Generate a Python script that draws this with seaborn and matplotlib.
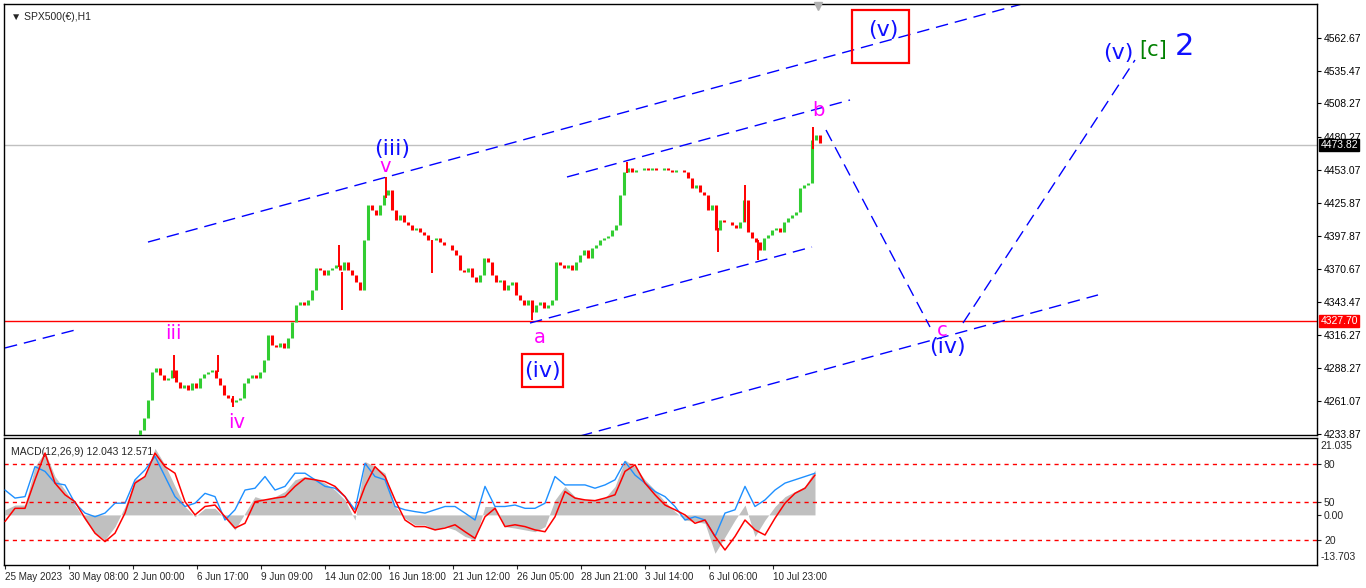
import numpy as np
import pandas as pd
import matplotlib
matplotlib.use("Agg")
import matplotlib.pyplot as plt
import seaborn as sns
from matplotlib.patches import Rectangle

# 1. Data
# closes of the H1 bars, one value every 4 bars
bar_start = 128
bar_step = 4
closes = [4224.7, 4228.8, 4237.1, 4247.1, 4262.0, 4285.2, 4288.6, 4282.8, 4278.6, 4280.3,
          4286.9, 4276.9, 4272.0, 4274.5, 4270.3, 4276.1, 4272.0, 4280.3, 4283.6, 4285.2,
          4286.9, 4280.3, 4274.5, 4266.2, 4263.7, 4260.3, 4262.0, 4263.7, 4276.1, 4280.3,
          4282.8, 4280.3, 4285.2, 4295.2, 4315.9, 4307.7, 4306.0, 4309.3, 4305.2, 4313.5,
          4326.7, 4340.9, 4343.3, 4340.9, 4345.0, 4353.3, 4371.6, 4369.9, 4365.8, 4369.9,
          4371.6, 4374.1, 4369.9, 4376.5, 4369.9, 4365.8, 4359.9, 4353.3, 4394.8, 4423.9,
          4419.7, 4415.6, 4423.9, 4432.2, 4436.3, 4419.7, 4411.4, 4415.6, 4409.7, 4407.3,
          4403.1, 4404.8, 4401.4, 4398.9, 4394.8, 4394.8, 4396.5, 4393.1, 4390.7, 4390.7,
          4386.5, 4382.4, 4369.9, 4368.2, 4371.6, 4364.1, 4359.9, 4365.8, 4379.9, 4376.5,
          4365.8, 4359.9, 4361.6, 4353.3, 4357.5, 4359.9, 4349.2, 4345.0, 4340.9, 4345.0,
          4335.0, 4340.9, 4343.3, 4338.4, 4340.9, 4345.0, 4376.5, 4374.1, 4371.6, 4374.1,
          4369.9, 4376.5, 4382.4, 4386.5, 4379.9, 4388.2, 4390.7, 4394.8, 4396.5, 4398.1,
          4403.1, 4407.3, 4432.2, 4451.2, 4454.6, 4451.2, 4452.9, 4452.9, 4454.6, 4452.9,
          4454.6, 4452.9, 4452.9, 4454.6, 4452.9, 4451.2, 4452.9, 4452.9, 4451.2, 4446.3,
          4438.0, 4440.5, 4434.6, 4432.2, 4419.7, 4423.9, 4403.1, 4411.4, 4409.7, 4409.7,
          4407.3, 4404.8, 4409.7, 4428.0, 4401.4, 4396.5, 4393.1, 4386.5, 4396.5, 4398.9,
          4403.1, 4404.8, 4401.4, 4409.7, 4413.1, 4415.6, 4418.0, 4438.0, 4440.5, 4442.1,
          4477.8, 4481.9, 4475.3]

# the long wicks that stand out: bar, low, high
wick_bars = [170, 214, 229, 335, 338, 382, 428, 528, 623, 714, 741, 754, 809]
wick_lows = [4280.0, 4285.0, 4256.2, 4372.0, 4336.7, 4430.0, 4367.4, 4328.4, 4450.0,
             4384.8, 4410.0, 4378.2, 4470.0]
wick_highs = [4299.4, 4299.4, 4265.0, 4390.6, 4368.0, 4447.1, 4395.0, 4342.0, 4459.5,
              4405.0, 4440.5, 4395.0, 4488.6]

# MACD panel, one value every 10 bars
macd_start = 1
macd_step = 10
macd_hist = [1.4, 2.7, 2.7, 13.2, 17.3, 10.5, 6.8, 2.7, -1.4, -5.0,
             -6.8, -3.2, 2.3, 9.6, 10.5, 18.2, 13.7, 7.8, 2.3, -0.5,
             1.8, 1.8, -0.9, -4.1, 0.5, 5.0, 4.1, 5.0, 6.4, 9.6,
             10.5, 10.0, 8.7, 6.8, 4.1, -1.4, 14.6, 13.2, 11.4, 2.3,
             -0.9, -2.7, -2.7, -4.1, -3.2, -4.1, -5.9, -6.8, 2.3, 2.3,
             -3.2, -3.6, -4.1, -4.6, -3.2, 4.1, 7.8, 5.0, 4.1, 4.1,
             4.6, 7.8, 15.0, 13.2, 9.6, 6.8, 3.6, 0.9, -1.4, -1.8,
             -2.3, -10.5, -6.0, -1.4, 2.7, -5.9, -1.4, 2.3, 5.0, 6.4,
             7.8, 12.3]
macd_signal = [-1.8, 1.8, 1.8, 9.6, 16.9, 8.7, 5.5, 3.6, -0.9, -5.0,
               -7.3, -5.0, 0.5, 8.7, 10.5, 16.9, 13.2, 11.4, 3.6, 0.0,
               2.3, 2.7, -0.5, -3.6, -2.3, 3.6, 4.1, 4.6, 5.0, 7.8,
               10.0, 9.6, 9.1, 7.8, 5.0, 0.5, 7.8, 13.2, 10.5, 4.1,
               -1.4, -3.2, -3.2, -4.1, -3.6, -2.7, -4.6, -6.4, -0.5, 1.8,
               -3.2, -2.7, -3.2, -4.1, -4.6, -0.5, 6.4, 4.6, 4.1, 3.9,
               4.6, 5.5, 11.9, 13.7, 8.7, 5.5, 2.7, 1.4, 0.0, -2.3,
               -1.4, -5.9, -9.6, -5.9, -1.4, -4.1, -5.5, -0.9, 3.2, 5.9,
               7.3, 10.9]
macd_main = [6.8, 4.6, 5.0, 13.2, 11.9, 8.7, 8.2, 3.2, 0.5, -0.5,
             0.5, 3.2, 3.2, 9.6, 12.3, 16.0, 10.5, 5.0, 2.3, 3.2,
             5.9, 5.0, -1.4, 1.4, 6.8, 7.3, 10.5, 6.8, 7.8, 11.4,
             11.4, 9.6, 7.8, 7.3, 5.0, 1.4, 14.1, 10.5, 9.6, 2.3,
             1.4, 0.9, 0.5, 1.4, 2.3, 2.3, 0.5, -1.4, 7.8, 2.3,
             2.3, 2.7, 1.8, 1.8, 3.2, 10.5, 8.2, 8.2, 8.2, 7.3,
             8.2, 9.6, 14.6, 10.9, 8.7, 6.4, 5.0, 2.3, -1.4, -0.5,
             -1.4, -5.9, 0.5, 1.4, 7.8, 2.3, 4.1, 6.8, 8.7, 9.6,
             10.5, 11.4]
macd_levels = [13.92, 3.53, -6.86]
macd_level_labels = ["80", "50", "20"]

price_ticks = [4562.67, 4535.47, 4508.27, 4480.27, 4453.07, 4425.87, 4397.87,
               4370.67, 4343.47, 4316.27, 4288.27, 4261.07, 4233.87]
time_labels = ["25 May 2023", "30 May 08:00", "2 Jun 00:00", "6 Jun 17:00",
               "9 Jun 09:00", "14 Jun 02:00", "16 Jun 18:00", "21 Jun 12:00",
               "26 Jun 05:00", "28 Jun 21:00", "3 Jul 14:00", "6 Jul 06:00",
               "10 Jul 23:00"]
time_ticks = [1, 65, 129, 193, 257, 321, 385, 449, 513, 577, 641, 705, 769]
last_price = 4473.82
support_price = 4327.70

# trend lines drawn on the chart: (bar, price) -> (bar, price)
channel_lines = [
    ((144, 4393.1), (1018, 4590.7)),
    ((576, 4232.1), (1094, 4349.2)),
    ((1, 4305.2), (75, 4320.9)),
    ((563, 4447.1), (846, 4511.0)),
    ((526, 4325.9), (808, 4389.0)),
    ((822, 4486.1), (926, 4322.6)),
    ((959, 4325.9), (1131, 4544.2)),
]

# wave labels: text, bar, price, colour, size
blue = "#1010ff"
magenta = "#ff00ff"
waves = [
    ("(iii)", 388, 4470.5, blue, 16),
    ("v", 381, 4455.5, magenta, 14),
    ("iii", 169, 4317.6, magenta, 14),
    ("iv", 233, 4243.7, magenta, 14),
    ("a", 536, 4313.5, magenta, 14),
    ("(iv)", 538, 4286.1, blue, 16),
    ("b", 814, 4502.7, magenta, 14),
    ("(v)", 879, 4569.1, blue, 16),
    ("c", 938, 4320.1, magenta, 14),
    ("(iv)", 943, 4306.0, blue, 16),
    ("(v)", 1114, 4550.0, blue, 16),
    ("[c]", 1149, 4552.5, "#008000", 15),
    ("2", 1180, 4555.8, blue, 22),
]
boxes = [((848, 4541.7), (905, 4585.7)), ((518, 4272.8), (559, 4300.2))]

# 2. Figure layout like the terminal window
sns.set_style("white")
plt.rcParams['font.family'] = ['DejaVu Sans']
axis_font = "Liberation Sans"
axis_size = 7.5

W, H = 1366, 588
fig = plt.figure(figsize=(W / 100, H / 100), dpi=100)
ax = fig.add_axes([4 / W, (H - 435) / H, 1313 / W, 431 / H])
mx = fig.add_axes([4 / W, (H - 565) / H, 1313 / W, 127 / H], sharex=ax)

for a in (ax, mx):
    for s in a.spines.values():
        s.set_color("black")
        s.set_linewidth(1)
ax.set_xlim(0, 1313)
ax.set_ylim(4594 - 0.83 * 435, 4594 - 0.83 * 4)

# 3. Price bars (open = previous close)
bars = pd.DataFrame({"close": closes})
bars["bar"] = bar_start + bar_step * np.arange(len(bars))
bars["open"] = bars["close"].shift(1).fillna(bars["close"])
bars["colour"] = np.where(bars["close"] > bars["open"], "#32cd32",
                          np.where(bars["close"] < bars["open"], "#ff0000", "black"))
ax.vlines(bars["bar"], bars[["open", "close"]].min(axis=1),
          bars[["open", "close"]].max(axis=1), colors=bars["colour"], linewidth=2.2, zorder=3)
ax.vlines(wick_bars, wick_lows, wick_highs, colors="#ff0000", linewidth=1.4, zorder=3)

ax.axhline(last_price, color="#c0c0c0", linewidth=1, zorder=1)
ax.axhline(support_price, color="red", linewidth=1, zorder=2)

for (x0, y0), (x1, y1) in channel_lines:
    ax.plot([x0, x1], [y0, y1], color="blue", linewidth=1, dashes=(9, 5), zorder=2)

for t, x, y, c, fs in waves:
    ax.text(x, y, t, color=c, fontsize=fs, ha="center", va="center", zorder=5)
for (x0, y0), (x1, y1) in boxes:
    ax.add_patch(Rectangle((x0, y0), x1 - x0, y1 - y0, fill=False,
                           edgecolor="red", linewidth=1.6, zorder=5))

ax.text(0.005, 0.982, "\u25bc SPX500(\u20ac),H1", transform=ax.transAxes,
        fontsize=axis_size, va="top", ha="left", family=[axis_font, "DejaVu Sans"])
ax.plot([814], [ax.get_ylim()[1] - 2], marker="v", color="#b0b0b0",
        markersize=6, clip_on=False, zorder=6)

ax.yaxis.tick_right()
ax.set_yticks(price_ticks)
ax.set_yticklabels([f"{p:.2f}" for p in price_ticks], fontsize=axis_size, family=axis_font)
ax.tick_params(axis="y", direction="out", length=3, pad=2, colors="black")
ax.tick_params(axis="x", bottom=False, labelbottom=False)

for price, bg in ((last_price, "black"), (support_price, "red")):
    ax.text(1.0025, price, f"{price:.2f}", transform=ax.get_yaxis_transform(),
            fontsize=axis_size, color="white", va="center", ha="left", zorder=10,
            family=axis_font,
            bbox=dict(boxstyle="square,pad=0.12", facecolor=bg, edgecolor=bg),
            clip_on=False)

# 4. MACD panel
macd = pd.DataFrame({"bar": macd_start + macd_step * np.arange(len(macd_main)),
                     "hist": macd_hist, "signal": macd_signal, "main": macd_main})
mx.fill_between(macd["bar"], 0, macd["hist"], color="#c0c0c0", linewidth=0, zorder=1)
for lv in macd_levels:
    mx.axhline(lv, color="red", linewidth=1, dashes=(3, 3), zorder=2)
sns.lineplot(data=macd, x="bar", y="main", ax=mx, color="#1e90ff", linewidth=1, zorder=3)
sns.lineplot(data=macd, x="bar", y="signal", ax=mx, color="red", linewidth=1.1, zorder=4)
mx.set_ylim(-13.703, 21.035)
mx.set_xlabel("")
mx.set_ylabel("")

mx.yaxis.tick_right()
mx.set_yticks(macd_levels + [0])
mx.set_yticklabels(macd_level_labels + ["0.00"], fontsize=axis_size, family=axis_font)
mx.tick_params(axis="y", direction="out", length=3, pad=2)
mx.text(1.0025, 0.94, "21.035", transform=mx.transAxes, fontsize=axis_size, va="center",
        ha="left", family=axis_font)
mx.text(1.0025, 0.06, "-13.703", transform=mx.transAxes, fontsize=axis_size, va="center",
        ha="left", family=axis_font)
mx.text(0.005, 0.93, "MACD(12,26,9) 12.043 12.571", transform=mx.transAxes,
        fontsize=axis_size, va="top", ha="left", family=axis_font)

mx.set_xticks(time_ticks)
mx.set_xticklabels(time_labels, fontsize=7.1, ha="left", family=axis_font)
mx.tick_params(axis="x", direction="out", length=3, pad=2, bottom=True)
mx.set_xlim(0, 1313)

fig.savefig("out.png", dpi=100, facecolor="white")
